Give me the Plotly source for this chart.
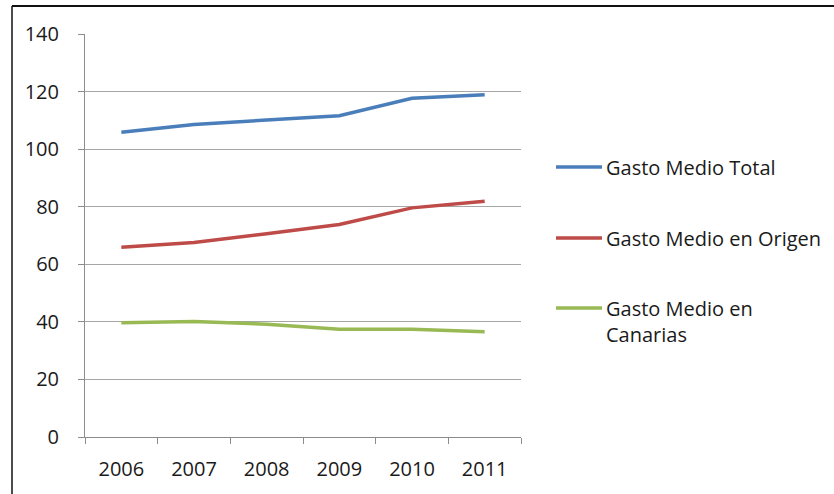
import plotly.graph_objects as go

# Gasto medio por turista (euros), 2006-2011
years = ["2006", "2007", "2008", "2009", "2010", "2011"]
gasto_total = [105.9, 108.6, 110.1, 111.6, 117.7, 118.9]
gasto_origen = [65.9, 67.6, 70.6, 73.8, 79.6, 81.9]
gasto_canarias = [39.7, 40.1, 39.2, 37.4, 37.4, 36.6]

series = [
    ("Gasto Medio Total", gasto_total, "#4A7EBB"),
    ("Gasto Medio en Origen", gasto_origen, "#BE4B48"),
    ("Gasto Medio en<br>Canarias", gasto_canarias, "#98B954"),
]

FONT = "'Open Sans', Lato, sans-serif"
FSIZE = 20
TXT = "#1a1a1a"

fig = go.Figure()
for name, vals, color in series:
    fig.add_trace(go.Scatter(
        x=years, y=vals, name=name, mode="lines",
        line=dict(color=color, width=3.5),
        showlegend=False,
    ))

W, H = 834, 494
ML, MR, MT, MB = 85, 313, 34, 57
pw, ph = W - ML - MR, H - MT - MB

def px_x(p):
    return (p - ML) / pw

def px_y(p):
    return (H - MB - p) / ph

# Legend on the right: a short line sample plus the series name
shapes = []
annotations = []
legend_rows = [167, 238, 308]
for (name, _, color), yrow in zip(series, legend_rows):
    shapes.append(dict(
        type="line", xref="paper", yref="paper",
        x0=px_x(556), x1=px_x(602), y0=px_y(yrow), y1=px_y(yrow),
        line=dict(color=color, width=3.5),
    ))
    multiline = "<br>" in name
    annotations.append(dict(
        xref="paper", yref="paper", x=px_x(604),
        y=px_y(yrow - 15) if multiline else px_y(yrow),
        xanchor="left", yanchor="top" if multiline else "middle",
        text=name, showarrow=False, align="left",
        font=dict(family=FONT, size=FSIZE, color=TXT),
    ))

# Outer chart frame (top and left edges)
shapes += [
    dict(type="line", xref="paper", yref="paper",
         x0=px_x(12), x1=px_x(W + 5), y0=px_y(6), y1=px_y(6),
         line=dict(color="#111111", width=2)),
    dict(type="line", xref="paper", yref="paper",
         x0=px_x(12), x1=px_x(12), y0=px_y(6), y1=px_y(H + 5),
         line=dict(color="#111111", width=1.5)),
]

fig.update_layout(
    width=W, height=H,
    margin=dict(l=ML, r=MR, t=MT, b=MB),
    paper_bgcolor="white", plot_bgcolor="white",
    font=dict(family=FONT, size=FSIZE, color=TXT),
    showlegend=False,
    xaxis=dict(
        type="category", range=[-0.5, 5.5],
        showgrid=False, showline=True, linecolor="#8c8c8c", linewidth=1,
        ticks="outside", tickson="boundaries", ticklen=6, tickcolor="#8c8c8c",
        ticklabelstandoff=14,
    ),
    yaxis=dict(
        range=[0, 140], dtick=20, tick0=0,
        showgrid=True, gridcolor="#a6a6a6", gridwidth=1,
        zeroline=False, showline=True, linecolor="#8c8c8c", linewidth=1,
        ticks="outside", ticklen=6, tickcolor="#8c8c8c",
        ticklabelstandoff=15,
    ),
    shapes=shapes,
    annotations=annotations,
)

fig.write_html("out.html")
